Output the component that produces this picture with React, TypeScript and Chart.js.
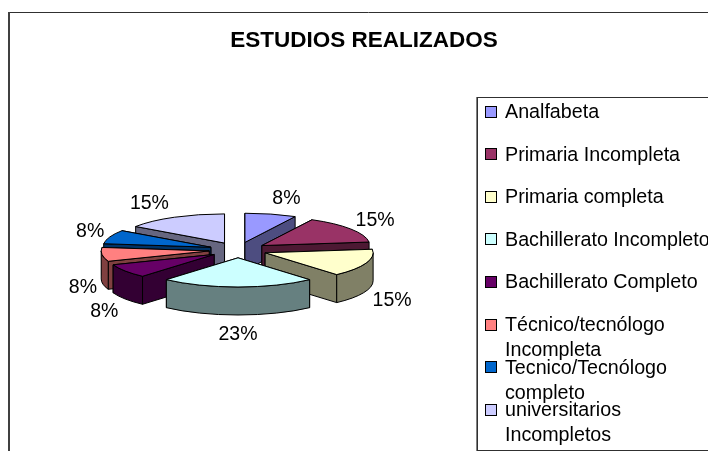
import React, { useEffect, useRef } from "react";
import { Chart, registerables } from "chart.js";

Chart.register(...registerables);

const TITLE = "ESTUDIOS REALIZADOS";
const CATEGORIES = [
  "Analfabeta",
  "Primaria Incompleta",
  "Primaria completa",
  "Bachillerato Incompleto",
  "Bachillerato Completo",
  "Técnico/tecnólogo Incompleta",
  "Tecnico/Tecnólogo completo",
  "universitarios Incompletos",
];
const LEGEND_LINES = [
  ["Analfabeta"],
  ["Primaria Incompleta"],
  ["Primaria completa"],
  ["Bachillerato Incompleto"],
  ["Bachillerato Completo"],
  ["Técnico/tecnólogo", "Incompleta"],
  ["Tecnico/Tecnólogo", "completo"],
  ["universitarios", "Incompletos"],
];
const COUNTS = [1, 2, 2, 3, 1, 1, 1, 2];
const COLORS = ["#9999FF", "#993366", "#FFFFCC", "#CCFFFF", "#660066", "#FF8080", "#0066CC", "#CCCCFF"];
const SIDE_COLORS = ["#4D4D80", "#4D1933", "#808066", "#668080", "#330033", "#804040", "#003366", "#666680"];

const FONT = '"Liberation Sans", Arial, sans-serif';
const PIE = { cx: 238, cy: 250, radius: 108, squash: 0.27, explode: 29, depth: 28 };

const pie3d = {
  id: "pie3d",
  beforeDraw(chart: any) {
    const { ctx } = chart;
    ctx.save();
    ctx.fillStyle = "#fff";
    ctx.fillRect(0, 0, chart.width, chart.height);
    // outer chart frame
    ctx.strokeStyle = "#303030";
    ctx.lineWidth = 1;
    ctx.beginPath();
    ctx.moveTo(800, 12.5);
    ctx.lineTo(8, 12.5);
    ctx.stroke();
    ctx.lineWidth = 2;
    ctx.strokeStyle = "#404040";
    ctx.beginPath();
    ctx.moveTo(9, 12);
    ctx.lineTo(9, 460);
    ctx.stroke();
    // legend box + entries
    ctx.lineWidth = 1;
    ctx.strokeStyle = "#303030";
    ctx.strokeRect(477.5, 97.5, 400, 353);
    ctx.strokeStyle = "#808080";
    ctx.beginPath();
    ctx.moveTo(476.5, 97);
    ctx.lineTo(476.5, 451);
    ctx.stroke();
    LEGEND_LINES.forEach((lines, i) => {
      const y = 111.5 + i * 42.6;
      ctx.fillStyle = COLORS[i];
      ctx.strokeStyle = "#000";
      ctx.fillRect(485.5, Math.round(y) - 5.5, 11, 11);
      ctx.strokeRect(485.5, Math.round(y) - 5.5, 11, 11);
      ctx.fillStyle = "#000";
      ctx.font = `19.7px ${FONT}`;
      ctx.textAlign = "left";
      ctx.textBaseline = "middle";
      lines.forEach((t, j) => ctx.fillText(t, 505, y + 1 + j * 25));
    });
    ctx.restore();
  },
  beforeDatasetDraw(chart: any, args: any) {
    const { ctx } = chart;
    const { cx, cy, squash, explode, depth } = PIE;
    const arcs = args.meta.data.map((arc: any, i: number) => ({ arc, i }));
    const mid = (a: any) => (a.startAngle + a.endAngle) / 2;
    arcs.sort((p: any, q: any) => Math.sin(mid(p.arc)) - Math.sin(mid(q.arc)));
    const total = COUNTS.reduce((a, b) => a + b, 0);

    ctx.save();
    ctx.lineWidth = 1;
    ctx.lineJoin = "round";
    ctx.strokeStyle = "#000";
    for (const { arc, i } of arcs) {
      const a0 = arc.startAngle;
      const a1 = arc.endAngle;
      const m = mid(arc);
      const r = arc.outerRadius;
      const ax = cx + Math.cos(m) * explode;
      const ay = cy + Math.sin(m) * explode * squash;
      const px = (t: number) => ax + Math.cos(t) * r;
      const py = (t: number) => ay + Math.sin(t) * r * squash;
      ctx.fillStyle = SIDE_COLORS[i];

      // radial cut faces: the hidden one first
      const cut = (t: number) => {
        ctx.beginPath();
        ctx.moveTo(ax, ay);
        ctx.lineTo(px(t), py(t));
        ctx.lineTo(px(t), py(t) + depth);
        ctx.lineTo(ax, ay + depth);
        ctx.closePath();
        ctx.fill();
        ctx.stroke();
      };
      const startVisible = Math.cos(a0) < 0;
      if (startVisible) {
        cut(a1);
        cut(a0);
      } else {
        cut(a0);
        cut(a1);
      }

      // outer curved wall (front half only)
      const w0 = Math.max(a0, 0);
      const w1 = Math.min(a1, Math.PI);
      if (w1 > w0) {
        ctx.beginPath();
        ctx.ellipse(ax, ay, r, r * squash, 0, w0, w1);
        ctx.lineTo(px(w1), py(w1) + depth);
        ctx.ellipse(ax, ay + depth, r, r * squash, 0, w1, w0, true);
        ctx.closePath();
        ctx.fill();
        ctx.stroke();
      }

      // top face, drawn by the library's arc element in a flattened space
      ctx.save();
      ctx.translate(ax, ay);
      ctx.scale(1, squash);
      ctx.translate(-arc.x, -arc.y);
      arc.draw(ctx);
      ctx.restore();
      ctx.beginPath();
      ctx.moveTo(ax, ay);
      ctx.ellipse(ax, ay, r, r * squash, 0, a0, a1);
      ctx.closePath();
      ctx.stroke();
    }

    // percentage labels
    ctx.fillStyle = "#000";
    ctx.font = `19.5px ${FONT}`;
    ctx.textAlign = "center";
    ctx.textBaseline = "middle";
    for (const { arc, i } of arcs) {
      const m = mid(arc);
      const c = Math.cos(m);
      const s = Math.sin(m);
      let dx = 0;
      if (c > 0.01) dx = c * 152 + 12;
      else if (c < -0.01) dx = c * 126 - 30;
      const y = cy + s * 54 + (s > 0 ? depth + 3 : 1);
      ctx.fillText(`${Math.round((COUNTS[i] / total) * 100)}%`, cx + dx, y);
    }
    ctx.restore();
    return false;
  },
};

export default function App() {
  const ref = useRef<HTMLCanvasElement>(null);
  useEffect(() => {
    const chart = new Chart(ref.current as HTMLCanvasElement, {
      type: "pie",
      data: {
        labels: CATEGORIES,
        datasets: [{ data: COUNTS, backgroundColor: COLORS, borderWidth: 0, radius: PIE.radius } as any],
      },
      options: {
        responsive: false,
        animation: false,
        radius: PIE.radius,
        plugins: {
          legend: { display: false },
          tooltip: { enabled: false },
          title: {
            display: true,
            text: TITLE,
            color: "#000",
            font: { family: FONT, size: 22.5, weight: "bold" },
            padding: { top: 27, bottom: 10 },
          },
        },
      } as any,
      plugins: [pie3d],
    });
    return () => chart.destroy();
  }, []);
  return (
    <div style={{ position: "fixed", left: 0, top: 0, width: 708, height: 451, overflow: "hidden", background: "#fff" }}>
      <canvas ref={ref} width={728} height={451} style={{ display: "block", width: 728, height: 451 }} />
    </div>
  );
}
